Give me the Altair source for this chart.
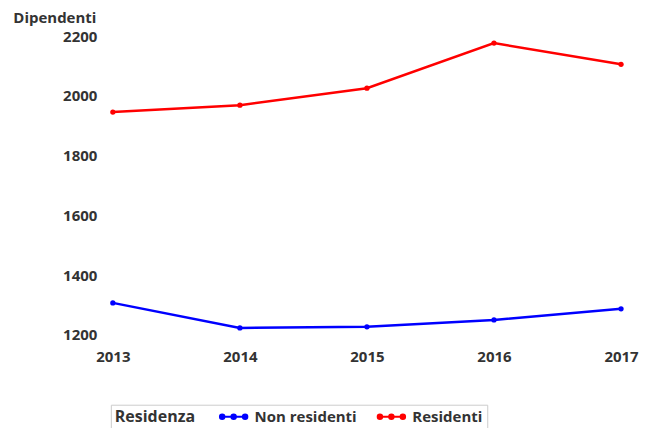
import altair as alt
import pandas as pd

years = ["2013", "2014", "2015", "2016", "2017"]
residenti = [1946, 1969, 2026, 2177, 2106]
non_residenti = [1307, 1223, 1227, 1250, 1287]
series = ["Non residenti", "Residenti"]
colors = ["#0000ff", "#ff0000"]

rows = []
for y, v in zip(years, non_residenti):
    rows.append({"Anno": y, "Dipendenti": v, "Residenza": "Non residenti"})
for y, v in zip(years, residenti):
    rows.append({"Anno": y, "Dipendenti": v, "Residenza": "Residenti"})
df = pd.DataFrame(rows)

r = 0.32
dot = lambda cx: f"M{cx - r},0a{r},{r} 0 1,0 {2*r},0a{r},{r} 0 1,0 {-2*r},0"
sym = "M-2,0L2,0" + dot(-1.64) + dot(0) + dot(1.64)

font = "Open Sans"
chart = alt.Chart(df).mark_line(
    strokeWidth=2.5,
    point=alt.OverlayMarkDef(filled=True, size=28, opacity=1),
).encode(
    x=alt.X("Anno:O", scale=alt.Scale(type="point", padding=0),
            axis=alt.Axis(title=None, labelAngle=0, domain=False, ticks=False, grid=False,
                          labelPadding=12, labelFontSize=15, labelFont=font,
                          labelFontWeight="bold", labelColor="#333333")),
    y=alt.Y("Dipendenti:Q", scale=alt.Scale(domain=[1190, 2260], nice=False, zero=False),
            axis=alt.Axis(values=[1200, 1400, 1600, 1800, 2000, 2200], format="d",
                          grid=False, domain=False, ticks=False, labelPadding=16,
                          labelFontSize=15, labelFont=font, labelFontWeight="bold",
                          labelColor="#333333", title="Dipendenti", titleAngle=0,
                          titleAlign="right", titleBaseline="middle", titleX=-17,
                          titleY=-1, titleFont=font, titleFontSize=15,
                          titleFontWeight="bold", titleColor="#333333")),
    color=alt.Color("Residenza:N", scale=alt.Scale(domain=series, range=colors),
                    legend=alt.Legend(orient="none", legendX=-2, legendY=387,
                                      direction="horizontal", titleOrient="left",
                                      titleBaseline="middle",
                                      title="Residenza", titleFont=font,
                                      titleFontSize=16, titleFontWeight="bold",
                                      titleColor="#333333", labelFont=font,
                                      labelFontSize=15, labelFontWeight="bold",
                                      labelColor="#333333", symbolType=sym,
                                      symbolSize=196, symbolStrokeWidth=2,
                                      strokeColor="#cccccc", padding=4,
                                      titlePadding=30, columnPadding=16,
                                      gridAlign="all",
                                      labelOffset=13, symbolOpacity=1)),
).properties(width=509, height=320,
             padding={"left": 4, "top": 2, "right": 5, "bottom": 5})

chart = chart.configure_view(stroke="transparent", strokeWidth=0)
chart.save("out.html", embed_options={"renderer": "svg", "actions": False})
